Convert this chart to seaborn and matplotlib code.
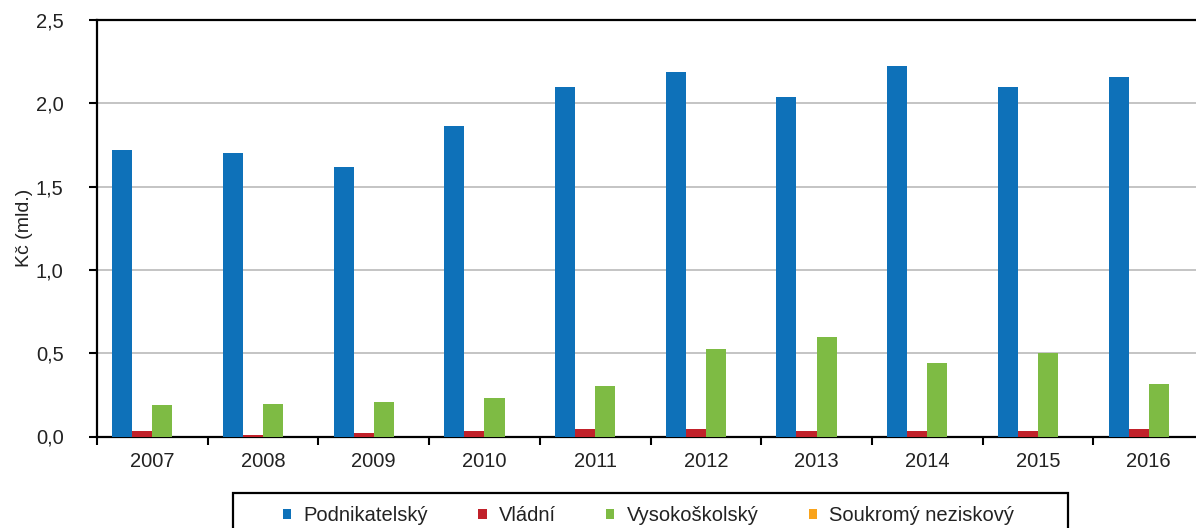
import matplotlib
matplotlib.use("Agg")
import matplotlib.pyplot as plt
from matplotlib.patches import Patch, Rectangle
from matplotlib.ticker import FuncFormatter, FixedLocator
import seaborn as sns
import pandas as pd

years = ["2007", "2008", "2009", "2010", "2011", "2012", "2013", "2014", "2015", "2016"]
sectors = ["Podnikatelský", "Vládní", "Vysokoškolský", "Soukromý neziskový"]
podnikatelsky = [1.72, 1.70, 1.615, 1.865, 2.10, 2.19, 2.04, 2.225, 2.10, 2.157]
vladni = [0.036, 0.012, 0.024, 0.036, 0.048, 0.048, 0.036, 0.036, 0.036, 0.048]
vysokoskolsky = [0.187, 0.196, 0.208, 0.232, 0.302, 0.524, 0.596, 0.444, 0.50, 0.314]
soukromy = [0.0, 0.0, 0.0, 0.0, 0.0, 0.0, 0.0, 0.0, 0.0, 0.0]
colors = ["#0E71B9", "#C1212A", "#7EBB44", "#F9A31B"]

rows = []
for sector, vals in zip(sectors, [podnikatelsky, vladni, vysokoskolsky, soukromy]):
    for year, v in zip(years, vals):
        rows.append({"rok": year, "sektor": sector, "hodnota": v})
df = pd.DataFrame(rows)

sns.set_style("white")
plt.rcParams["font.family"] = ["Liberation Sans", "DejaVu Sans"]

fig = plt.figure(figsize = (11.96, 5.28), dpi = 100)
W, H = 1196.0, 528.0
ax = fig.add_axes([97 / W, 1 - 436.5 / H, 1107 / W, 416.5 / H])

sns.barplot(data = df, x = "rok", y = "hodnota", hue = "sektor", hue_order = sectors,
            palette = colors, width = 0.725, gap = 0, saturation = 1, legend = False,
            errorbar = None, ax = ax, zorder = 3, linewidth = 0)

ax.set_xlim(-0.5, 9.5)
ax.set_ylim(0, 2.5)
ax.set_yticks([0, 0.5, 1.0, 1.5, 2.0, 2.5])
ax.yaxis.set_major_formatter(FuncFormatter(lambda v, p: ("%.1f" % v).replace(".", ",")))
ax.grid(axis = "y", color = "#BFBFBF", linewidth = 1.3, zorder = 0)
ax.set_axisbelow(True)

ax.xaxis.set_minor_locator(FixedLocator([i - 0.5 for i in range(11)]))
ax.tick_params(axis = "x", which = "major", length = 0, pad = 11, labelsize = 14.5, labelcolor = "#222222")
ax.tick_params(axis = "x", which = "minor", length = 6, width = 1.5, direction = "out", color = "black", bottom = True)
ax.tick_params(axis = "y", which = "major", length = 6, width = 1.5, direction = "out", color = "black",
               pad = 18, labelsize = 14.5, labelcolor = "#222222", left = True)

for side in ["left", "bottom", "top", "right"]:
    ax.spines[side].set_color("black")
    ax.spines[side].set_linewidth(1.6)
    ax.spines[side].set_visible(True)

ax.set_xlabel("")
ax.set_ylabel("Kč (mld.)", fontsize = 14, color = "#222222")
ax.yaxis.set_label_coords(-0.058, 0.5)

# legenda
handles = [Patch(facecolor = c, edgecolor = "none", label = s) for c, s in zip(colors, sectors)]
fig.legend(handles = handles, loc = "center left", bbox_to_anchor = (282.7 / W, 1 - 515.5 / H),
           ncol = 4, frameon = False, fontsize = 14.5, handlelength = 0.42, handleheight = 0.42,
           handletextpad = 0.6, columnspacing = 2.5, borderpad = 0, borderaxespad = 0,
           labelcolor = "#222222")
fig.patches.append(Rectangle((232.5 / W, 1 - 540 / H), (1067.7 - 232.5) / W, 47 / H,
                             transform = fig.transFigure, fill = False, edgecolor = "black",
                             linewidth = 1.6))

fig.savefig("out.png", dpi = 100)
plt.close()
